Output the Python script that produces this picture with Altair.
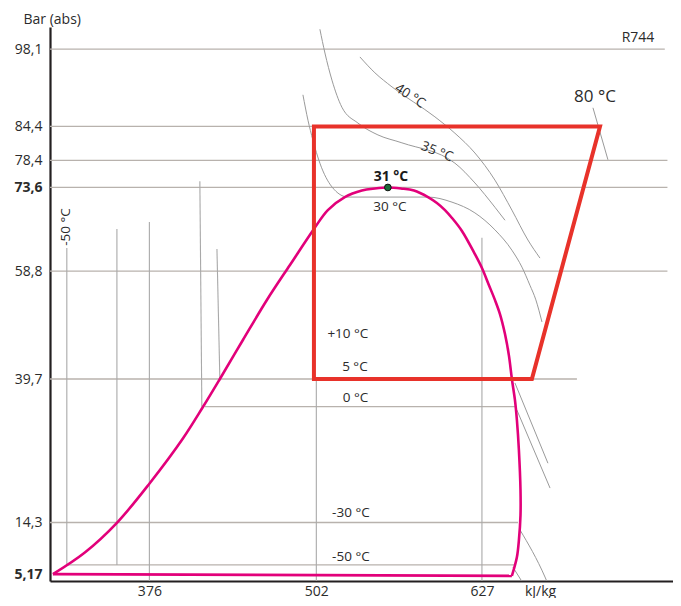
import altair as alt
import pandas as pd

FONT = "Open Sans"
TXT = "#2b2b2b"
GRID = "#b8b2ad"
ISO = "#9a9a9a"
MAGENTA = "#e2007a"
RED = "#e8322a"

# axis ticks
p_ticks = [5.17, 14.3, 39.7, 58.8, 73.6, 78.4, 84.4, 98.1]
h_ticks = [376, 502, 627]

# horizontal isobar / grid lines
grid_h1 = [301, 301, 301, 301, 301, 301, 417.9, 301, 313.7]
grid_h2 = [765, 716, 767, 767, 767, 698.7, 651.9, 654.2, 651.9]
grid_p = [98.1, 84.4, 78.4, 73.6, 58.8, 39.7, 34.8, 14.3, 6.8]

# vertical (liquid) lines
vert_h1 = [313.7, 351.5, 376, 414.1, 427.0, 502, 627]
vert_p1 = [62.9, 66.25, 67.5, 74.7, 62.7, 39.7, 64.7]
vert_h2 = [313.7, 351.5, 376, 415.6, 429.2, 502, 627]
vert_p2 = [6.8, 6.8, 3.95, 34.8, 39.7, 3.95, 3.95]

# isotherms
iso30_h = [491.9, 495.7, 499.4, 504.7, 513.8, 525.9, 586.3, 604.4, 621.7, 636.8, 649.6, 657.2, 663.2, 667.7, 672.3]
iso30_p = [90.0, 85.5, 82.0, 77.9, 73.7, 71.9, 71.9, 71.0, 69.1, 66.1, 62.5, 59.5, 56.3, 53.7, 49.8]
iso35_h = [504.7, 508.5, 513.8, 521.3, 533.4, 548.5, 566.6, 606.6, 621.7, 636.8, 644.4]
iso35_p = [101.6, 97.4, 92.6, 87.8, 85.0, 82.9, 81.5, 77.9, 74.4, 70.1, 67.8]
iso40_h = [534.9, 546.2, 559.1, 591.5, 606.6, 621.7, 636.8, 649.6, 661.7, 670.8]
iso40_p = [96.7, 93.9, 91.4, 86.1, 83.2, 79.7, 74.9, 69.6, 64.3, 61.1]
iso80_h = [710.8, 722.1]
iso80_p = [87.7, 78.5]
iso5_h = [651.9, 676.8]
iso5_p = [39.0, 24.8]
iso0_h = [653.4, 678.4]
iso0_p = [34.2, 20.4]
isom30_h = [655.7, 674.6, 675.8]
isom30_p = [13.0, 4.65, 4.0]
isom50_h = [650.4, 656.8]
isom50_p = [6.4, 4.0]

# saturation dome
dome_h = [303.2, 327.3, 351.5, 376.4, 401.3, 416.4, 429.2, 446.6, 464.7, 482.1, 500.2, 510.7,
          523.5, 536.4, 546.2, 556.0, 565.9, 575.7, 586.3, 593.0, 599.1, 604.4, 611.9, 621.7,
          627.0, 632.3, 636.8, 640.6, 644.4, 647.4, 649.6, 651.9, 653.4, 654.9, 656.1, 656.1,
          654.9, 653.4, 649.6]
dome_p = [5.17, 9.0, 14.25, 21.3, 29.17, 34.74, 39.7, 46.6, 53.68, 59.88, 66.25, 69.6,
          71.9, 73.06, 73.42, 73.6, 73.42, 73.06, 71.9, 70.85, 69.6, 68.2, 65.9, 61.8,
          59.35, 56.3, 53.7, 51.2, 47.66, 43.8, 39.7, 36.0, 32.4, 27.1, 20.05, 15.6,
          11.2, 8.2, 4.85]
base_h = [303.2, 649.6]
base_p = [5.17, 4.85]

# refrigeration cycle
cycle_h = [500.2, 716.1, 664.7, 500.2, 500.2]
cycle_p = [84.4, 84.4, 39.7, 39.7, 84.4]

crit_h = [556.0]
crit_p = [73.6]

lab_text = ["30 °C", "+10 °C", "5 °C", "0 °C", "-30 °C", "-50 °C"]
lab_h = [557.5, 525.8, 531.1, 531.5, 528.1, 528.1]
lab_p = [70.15, 47.66, 41.8, 36.3, 16.0, 8.2]

rot_text = ["40 °C", "35 °C", "-50 °C"]
rot_h = [572.7, 593.0, 313.0]
rot_p = [89.8, 79.9, 66.6]
rot_a = [33, 22, 270]

xscale = alt.Scale(domain=[301, 771.2], nice=False, zero=False)
yscale = alt.Scale(domain=[3.95, 102.0], nice=False, zero=False)

xaxis = alt.Axis(values=h_ticks, title="kJ/kg", grid=False, ticks=False, tickSize=0,
                 labelPadding=3, domainColor="#231f20", domainWidth=2.2,
                 labelFont=FONT, labelFontSize=14, labelColor=TXT,
                 titleFont=FONT, titleFontSize=14, titleFontWeight="normal", titleColor=TXT,
                 titleX=490, titleY=10, titleAlign="center", titleBaseline="middle",
                 labelFlush=False, labelOverlap=False)
yaxis = alt.Axis(values=p_ticks, format=".2~f", labelExpr="replace(datum.label, '.', ',')",
                 title="Bar (abs)", titleAngle=0, titleX=-27, titleY=-8, titleAlign="left",
                 titleBaseline="middle", titleFont=FONT, titleFontSize=14,
                 titleFontWeight="normal", titleColor=TXT,
                 grid=False, ticks=False, tickSize=0, labelPadding=8,
                 domainColor="#231f20", domainWidth=2.2,
                 labelFont=FONT, labelFontSize=14, labelColor=TXT,
                 labelFontWeight={"condition": {"test": "datum.value == 73.6 || datum.value == 5.17",
                                                "value": "bold"}, "value": "normal"},
                 labelOverlap=False, labelFlush=False)


def X(f):
    return alt.X(f, type="quantitative", scale=xscale, axis=xaxis)


def Y(f):
    return alt.Y(f, type="quantitative", scale=yscale, axis=yaxis)


def long_df(curves):
    rows = []
    for name, (hs, ps) in curves.items():
        for i, (h, p) in enumerate(zip(hs, ps)):
            rows.append({"name": name, "i": i, "h": h, "p": p})
    return pd.DataFrame(rows)


grid_df = pd.DataFrame({"h1": grid_h1, "h2": grid_h2, "p": grid_p})
vert_df = pd.DataFrame({"h1": vert_h1, "p1": vert_p1, "h2": vert_h2, "p2": vert_p2})
iso_df = long_df({"30": (iso30_h, iso30_p), "35": (iso35_h, iso35_p), "40": (iso40_h, iso40_p),
                  "80": (iso80_h, iso80_p), "5": (iso5_h, iso5_p), "0": (iso0_h, iso0_p),
                  "m30": (isom30_h, isom30_p), "m50": (isom50_h, isom50_p)})
dome_df = long_df({"dome": (dome_h, dome_p)})
base_df = long_df({"base": (base_h, base_p)})
cycle_df = long_df({"cycle": (cycle_h, cycle_p)})
crit_df = pd.DataFrame({"h": crit_h, "p": crit_p})
lab_df = pd.DataFrame({"t": lab_text, "h": lab_h, "p": lab_p})
rot_df = pd.DataFrame({"t": rot_text, "h": rot_h, "p": rot_p, "a": rot_a})
bold_df = pd.DataFrame({"t": ["31 °C"], "h": [558.3], "p": [75.45]})
big_df = pd.DataFrame({"t": ["80 °C"], "h": [712.3], "p": [89.6]})
r744_df = pd.DataFrame({"t": ["R744"], "h": [744.8], "p": [100.05]})

grid = alt.Chart(grid_df).mark_rule(color=GRID, strokeWidth=1.3).encode(
    x=X("h1"), x2="h2", y=Y("p"))
vert = alt.Chart(vert_df).mark_rule(color="#a9a9a9", strokeWidth=1.1).encode(
    x=X("h1"), y=Y("p1"), x2="h2", y2="p2")
iso = alt.Chart(iso_df).mark_line(color=ISO, strokeWidth=1, interpolate="monotone").encode(
    x=X("h"), y=Y("p"), detail="name:N", order="i:Q")
dome = alt.Chart(dome_df).mark_line(color=MAGENTA, strokeWidth=2.6, interpolate="catmull-rom").encode(
    x=X("h"), y=Y("p"), order="i:Q")
base = alt.Chart(base_df).mark_line(color=MAGENTA, strokeWidth=2.6).encode(
    x=X("h"), y=Y("p"), order="i:Q")
cycle = alt.Chart(cycle_df).mark_line(color=RED, strokeWidth=4, strokeCap="square",
                                      strokeJoin="miter").encode(
    x=X("h"), y=Y("p"), order="i:Q")
crit = alt.Chart(crit_df).mark_circle(size=45, fill="#1d6a38", stroke="#111111",
                                      strokeWidth=1, opacity=1).encode(x=X("h"), y=Y("p"))
labs = alt.Chart(lab_df).mark_text(font=FONT, fontSize=13.5, color=TXT, align="center",
                                   baseline="middle").encode(x=X("h"), y=Y("p"), text="t:N")
rots = alt.Chart(rot_df).mark_text(font=FONT, fontSize=13.5, color=TXT, align="center",
                                   baseline="middle").encode(
    x=X("h"), y=Y("p"), text="t:N", angle=alt.Angle("a:Q", scale=None))
bold = alt.Chart(bold_df).mark_text(font=FONT, fontSize=14, fontWeight="bold", color="#1a1a1a",
                                    align="center", baseline="middle").encode(
    x=X("h"), y=Y("p"), text="t:N")
big = alt.Chart(big_df).mark_text(font=FONT, fontSize=17, color=TXT, align="center",
                                  baseline="middle").encode(x=X("h"), y=Y("p"), text="t:N")
r744 = alt.Chart(r744_df).mark_text(font=FONT, fontSize=14, color=TXT, align="center",
                                    baseline="middle").encode(x=X("h"), y=Y("p"), text="t:N")

chart = alt.layer(grid, vert, iso, dome, base, cycle, crit, labs, rots, bold, big, r744).properties(
    width=623, height=554,
    autosize=alt.AutoSizeParams(type="none"),
    padding={"left": 42, "top": 19, "right": 0, "bottom": 17},
    background="white",
).configure_view(stroke=None)

chart.save("out.html", embed_options={"renderer": "svg", "actions": False})
